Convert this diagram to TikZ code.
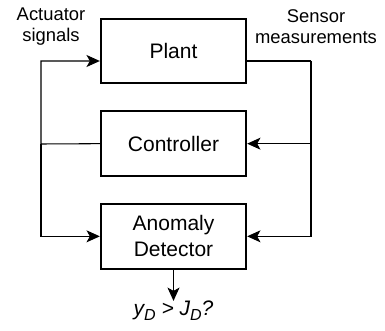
\documentclass[tikz,border=0pt]{standalone}
\usepackage{fontspec}
\setmainfont{Liberation Sans}
\usetikzlibrary{arrows.meta,positioning}
\tikzstyle{block} = [rectangle,draw=black,line width=1.5pt,minimum width=109pt,minimum height=48.5pt,align=center,font=\fontsize{15.75}{19.5}\selectfont]
\tikzstyle{lbl} = [align=center,inner sep=0pt,font=\fontsize{13.8}{15.75}\selectfont]
\tikzstyle{wire} = [line width=0.8pt,draw=black]
\newcommand{\sub}[1]{\raisebox{-0.45ex}{\fontsize{12}{12}\selectfont #1}}

\begin{document}
\begin{tikzpicture}[x=0.75pt,y=-0.75pt,node distance=19.5pt,>={Stealth[length=10pt,width=9pt,inset=2.5pt]}]
	\useasboundingbox (0,0) rectangle (385,331);
	\node[block] (plant) at (173.5,51) {Plant};
	\node[block] (ctrl) [below=of plant] {Controller};
	\node[block] (det) [below=of ctrl] {Anomaly\\Detector};
	\node[lbl] (act) at (51,27) {Actuator\\signals};
	\node[lbl] (sens) at (316,27) {Sensor\\measurements};
	\node[font=\fontsize{15.75}{19.5}\selectfont\itshape,inner sep=0pt] (out) at (173.5,311) {y\sub{D} > J\sub{D}?};

	\coordinate (plin) at ([yshift=-7.5pt]plant.west);
	\coordinate (plout) at ([yshift=-7.5pt]plant.east);
	\coordinate (lft) at (41,144);
	\coordinate (rgt) at (311,61);

	% actuator side
	\draw[wire,->] (ctrl.west) -- (lft) |- (plin);
	\draw[wire,->] (lft) |- (det.west);
	% sensor side
	\draw[wire] (plout) -- (rgt);
	\draw[wire,->] (rgt) |- (ctrl.east);
	\draw[wire,->] (rgt) |- (det.east);
	% output
	\draw[wire,->] (det.south) -- (out.north);
\end{tikzpicture}
\end{document}
